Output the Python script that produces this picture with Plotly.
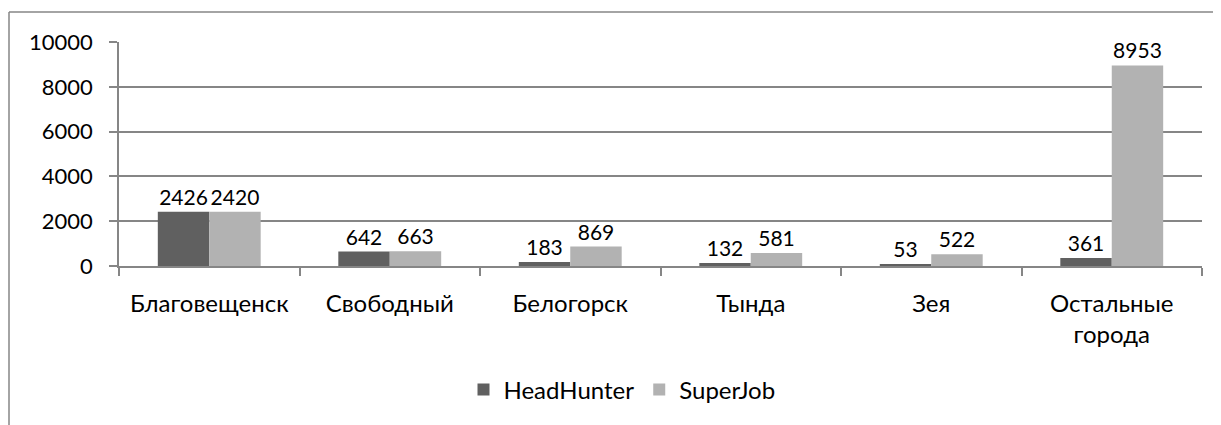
import plotly.graph_objects as go

categories = ["Благовещенск", "Свободный", "Белогорск", "Тында", "Зея", "Остальные<br>города"]
headhunter = [2426, 642, 183, 132, 53, 361]
superjob = [2420, 663, 869, 581, 522, 8953]
series_names = ["HeadHunter", "SuperJob"]
y_ticks = [0, 2000, 4000, 6000, 8000, 10000]
y_tick_text = ["0", "2000", "4000", "6000", "8000", "10000"]

OFF = 8  # page body margin
W, H = 1221 - OFF, 425 - OFF
L, R, T = 119 - OFF, 19, 42 - OFF
B = H - (266 - OFF)
FONT = "Lato, 'Open Sans', sans-serif"
FS_TXT = 24
FS_NUM = 22
FS_LBL = 21

fig = go.Figure()
for name, vals, col in [(series_names[0], headhunter, "#606060"), (series_names[1], superjob, "#b2b2b2")]:
    fig.add_trace(go.Bar(
        x=categories, y=vals, name=name, marker=dict(color=col, line=dict(width=0)),
        text=[str(v) for v in vals], textposition="outside",
        textfont=dict(size=FS_LBL, color="#000000", family=FONT),
        cliponaxis=False,
    ))

pw = W - L - R
ph = H - T - B
def px_x(p):
    return (p - OFF - L) / pw
def px_y(p):
    return (H - B - (p - OFF)) / ph

fig.update_layout(
    width=W, height=H,
    margin=dict(l=L, r=R, t=T, b=B, pad=0, autoexpand=False),
    paper_bgcolor="white", plot_bgcolor="white",
    barmode="group", bargap=0.43, bargroupgap=0,
    font=dict(family=FONT, size=FS_TXT, color="#000000"),
    showlegend=True,
    legend=dict(orientation="h", x=px_x(622), xanchor="center", y=px_y(390), yanchor="middle",
                font=dict(size=FS_TXT), traceorder="normal"),
    xaxis=dict(showgrid=False, showline=True, linecolor="#868686", linewidth=1.5,
               ticks="outside", tickson="boundaries", ticklen=8, tickcolor="#868686", tickwidth=1.5,
               tickfont=dict(size=FS_TXT), ticklabelstandoff=15, automargin=False),
    yaxis=dict(range=[0, 10000], tickvals=y_ticks, ticktext=y_tick_text, showgrid=True,
               gridcolor="#868686", gridwidth=1.5,
               showline=True, linecolor="#868686", linewidth=1.5, ticks="outside", ticklen=8,
               tickcolor="#868686", tickwidth=1.5, zeroline=False, tickfont=dict(size=FS_NUM),
               ticklabelstandoff=12, automargin=False),
    shapes=[
        dict(type="line", xref="paper", yref="paper", x0=px_x(9), x1=px_x(9), y0=px_y(12), y1=px_y(440),
             line=dict(color="#868686", width=1.5)),
        dict(type="line", xref="paper", yref="paper", x0=px_x(9), x1=px_x(1240), y0=px_y(12), y1=px_y(12),
             line=dict(color="#868686", width=1.5)),
    ],
)

fig.write_html("out.html")
